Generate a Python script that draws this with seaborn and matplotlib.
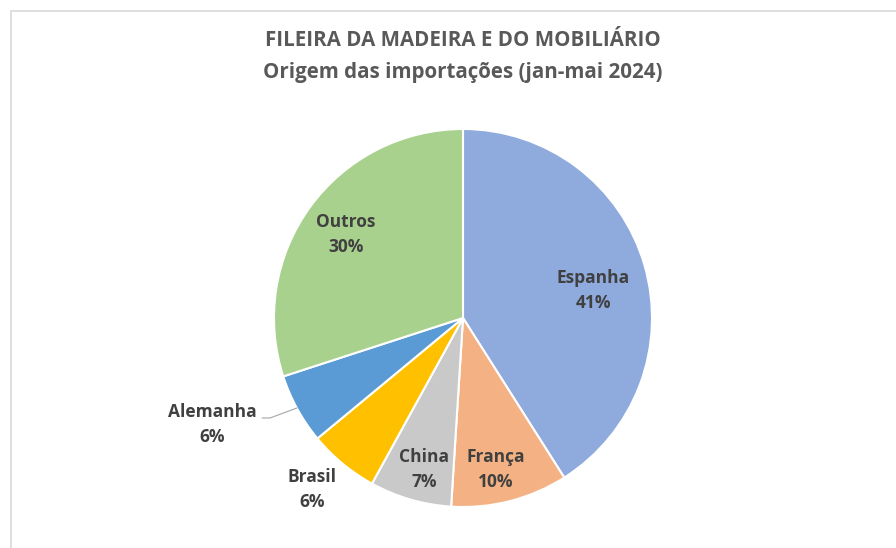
import numpy as np
import matplotlib.pyplot as plt
import seaborn as sns

countries = ["Espanha", "França", "China", "Brasil", "Alemanha", "Outros"]
shares = [41, 10, 7, 6, 6, 30]
colors = ["#8FAADC", "#F4B183", "#C9C9C9", "#FFC000", "#5B9BD5", "#A9D18E"]

sns.set_theme(style="white")
plt.rcParams["font.family"] = ["Open Sans", "DejaVu Sans"]

fig = plt.figure(figsize=(8.96, 5.48), dpi=100)
# light chart-area frame like the spreadsheet export
fig.patches.append(plt.Rectangle((11 / 896, -0.01), 1.0, 1 - 11 / 548 + 0.01,
                                 transform=fig.transFigure, fill=False,
                                 edgecolor="#D9D9D9", linewidth=1.2))

ax = fig.add_axes([(463 - 189) / 896, (548 - 318 - 189) / 548, 378 / 896, 378 / 548])
wedges, _ = ax.pie(shares, colors=colors, startangle=90, counterclock=False,
                   wedgeprops=dict(edgecolor="white", linewidth=1.5))
ax.set_xlim(-1, 1)
ax.set_ylim(-1, 1)
ax.set_aspect("equal")

# label centres in pie units (radius = 1)
label_pos = [(0.688, 0.148), (0.175, -0.804), (-0.206, -0.804),
             (-0.799, -0.910), (-1.328, -0.561), (-0.619, 0.444)]
txt_color = "#404040"
for name, val, (x, y) in zip(countries, shares, label_pos):
    ax.text(x, y, f"{name}\n{val}%", ha="center", va="center", fontsize=12.5,
            fontweight="bold", color=txt_color, linespacing=1.5, clip_on=False)

# leader line for Alemanha
ax.plot([-1.063, -1.021, -0.878], [-0.529, -0.529, -0.476],
        color="#A6A6A6", lw=0.8, clip_on=False)

fig.text(463 / 896, 1 - 41 / 548, "FILEIRA DA MADEIRA E DO MOBILIÁRIO",
         ha="center", va="center", fontsize=14.8, fontweight="bold", color="#595959")
fig.text(463 / 896, 1 - 72 / 548, "Origem das importações (jan-mai 2024)",
         ha="center", va="center", fontsize=14.8, fontweight="bold", color="#595959")

fig.savefig("out.png", dpi=100)
